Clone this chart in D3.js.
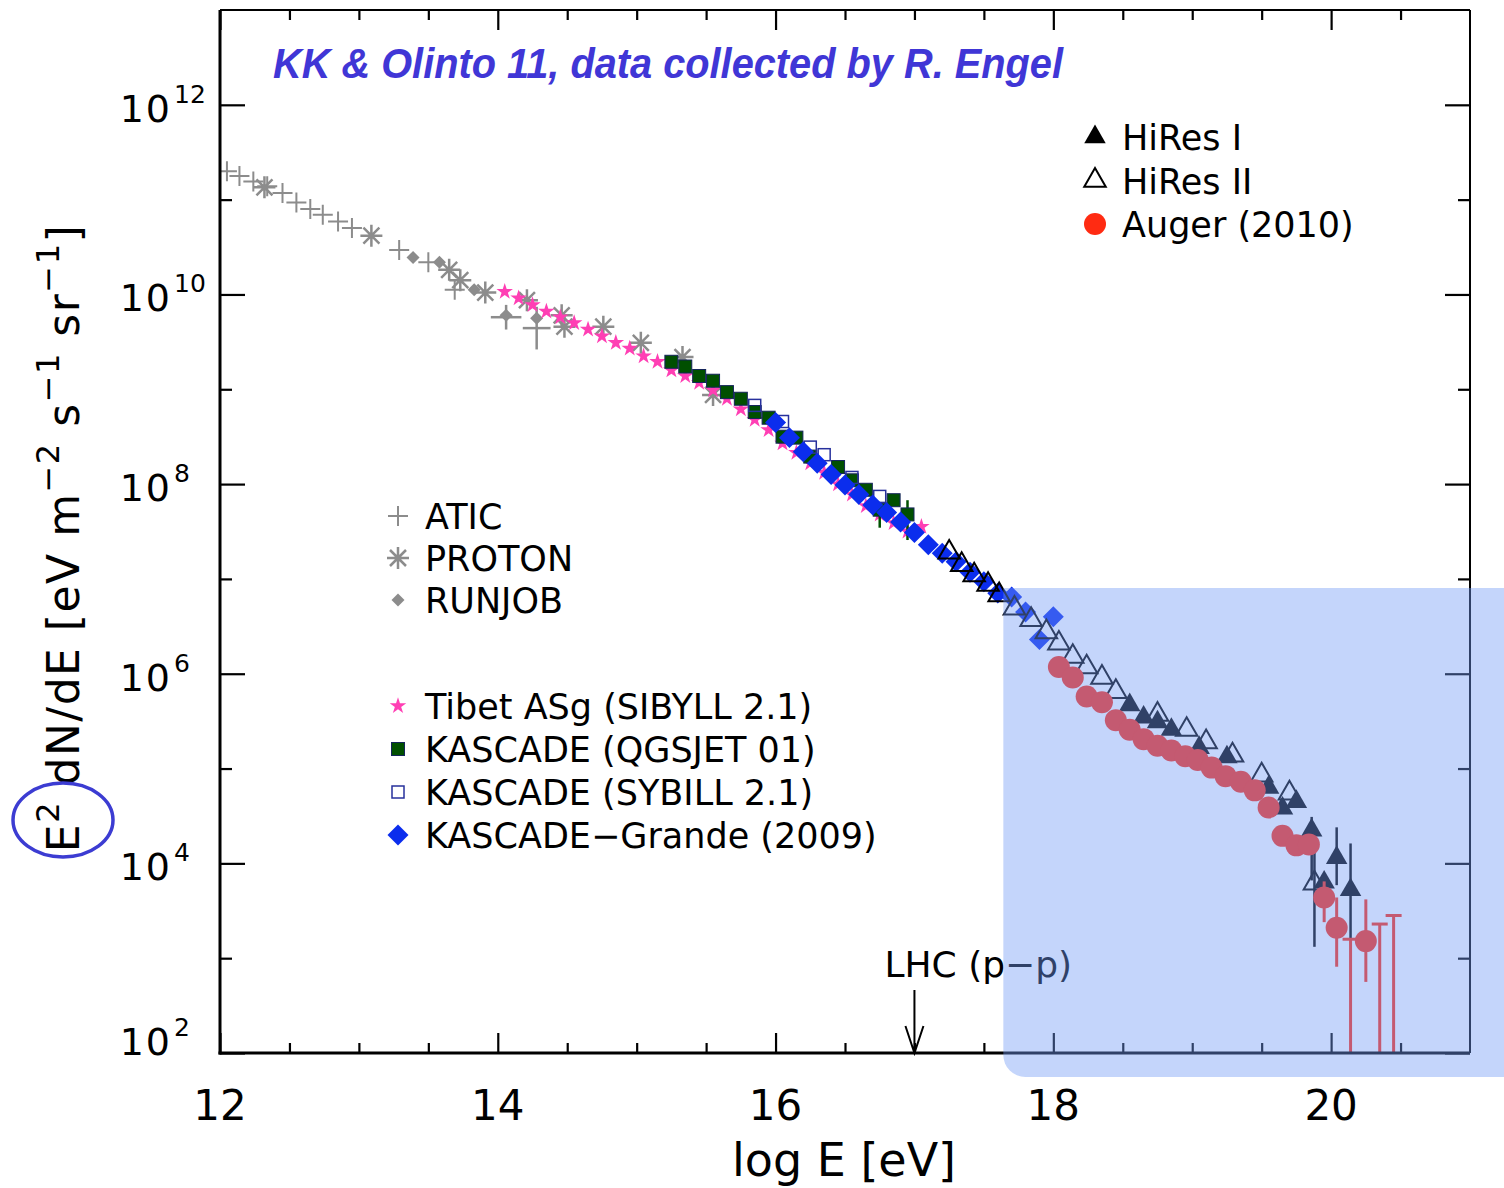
<!DOCTYPE html>
<html>
<head>
<meta charset="utf-8">
<script src="https://cdn.jsdelivr.net/npm/d3@7"></script>
<style>
  body { margin: 0; background: #fff; }
  svg text { font-family: "DejaVu Sans", sans-serif; fill: #000; }
</style>
</head>
<body>
<svg id="chart" width="1504" height="1188"></svg>
<script>
// every point is [log10 E (eV), log10 (E^2 dN/dE)]
const atic = [[12.05,11.30],[12.14,11.25],[12.24,11.19],[12.34,11.14],[12.45,11.07],[12.55,10.97],[12.65,10.90],[12.74,10.84],[12.85,10.77],[12.95,10.70],[13.29,10.47],[13.50,10.34],[13.69,10.05]];
const proton = [[12.32,11.13],[13.09,10.62],[13.65,10.26],[13.73,10.15],[13.91,10.02],[14.21,9.94],[14.46,9.78],[14.48,9.66],[14.76,9.66],[15.03,9.49],[15.33,9.34],[15.55,8.94]];
const runjob = [[13.39,10.39],[13.58,10.34],[13.83,10.05],[14.06,9.78],[14.28,9.75]];
// [logE, low, high, half width in logE]
const runjobErr = [[14.06,9.63,9.89,0.11],[14.28,9.42,9.87,0.10]];
const tibet = [[14.05,10.03],[14.15,9.96],[14.25,9.89],[14.35,9.82],[14.45,9.76],[14.55,9.70],[14.65,9.63],[14.75,9.56],[14.85,9.49],[14.95,9.43],[15.05,9.35],[15.15,9.29],[15.25,9.20],[15.35,9.14],[15.45,9.07],[15.55,8.99],[15.65,8.90],[15.75,8.79],[15.85,8.68],[15.95,8.57],[16.05,8.43],[16.15,8.33],[16.25,8.22],[16.35,8.12],[16.45,8.00],[16.55,7.89],[16.65,7.77],[16.75,7.68],[16.85,7.59],[16.95,7.50],[17.05,7.55]];
const kascadeQ = [[15.25,9.29],[15.35,9.24],[15.45,9.14],[15.55,9.09],[15.65,8.97],[15.75,8.90],[15.85,8.76],[15.95,8.70],[16.05,8.50],[16.15,8.49],[16.25,8.29],[16.45,8.18],[16.55,8.04],[16.65,7.94],[16.75,7.73],[16.85,7.83],[16.95,7.68]];
const kascadeQErr = [[16.75,7.54,7.80],[16.95,7.41,7.83]];
const kascadeS = [[15.85,8.83],[16.05,8.66],[16.25,8.39],[16.35,8.31],[16.55,8.07],[16.75,7.87]];
const grande = [[16.00,8.65],[16.10,8.49],[16.20,8.34],[16.30,8.22],[16.40,8.10],[16.50,7.99],[16.60,7.89],[16.70,7.78],[16.80,7.70],[16.90,7.60],[17.00,7.49],[17.10,7.36],[17.20,7.27],[17.30,7.18],[17.40,7.07],[17.50,6.97],[17.60,6.85],[17.70,6.81],[17.80,6.65],[17.90,6.36],[18.00,6.60]];
const hires2 = [[17.25,7.28],[17.34,7.15],[17.43,7.04],[17.53,6.94],[17.61,6.83],[17.72,6.69],[17.84,6.57],[17.95,6.44],[18.04,6.32],[18.14,6.18],[18.24,6.07],[18.35,5.96],[18.45,5.81],[18.75,5.57],[18.96,5.41],[19.10,5.28],[19.29,5.14],[19.50,4.93],[19.70,4.74],[19.88,3.79]];
const hires2Err = [[19.88,3.12,4.19]];
const hires1 = [[18.55,5.67],[18.65,5.54],[18.75,5.49],[18.85,5.41],[19.05,5.22],[19.25,5.12],[19.55,4.80],[19.65,4.58],[19.75,4.65],[19.86,4.35],[19.95,3.80],[20.04,4.06],[20.14,3.72]];
const hires1Err = [[19.86,3.82,4.49],[20.04,3.77,4.38],[20.14,3.19,4.21]];
const auger = [[18.04,6.07],[18.14,5.96],[18.24,5.76],[18.35,5.70],[18.45,5.51],[18.55,5.41],[18.65,5.31],[18.75,5.24],[18.85,5.19],[18.95,5.13],[19.04,5.09],[19.14,5.01],[19.24,4.92],[19.35,4.86],[19.45,4.77],[19.55,4.59],[19.65,4.29],[19.75,4.19],[19.84,4.20],[19.95,3.64],[20.04,3.32],[20.25,3.18]];
const augerErr = [[19.95,3.38,3.81],[20.04,2.91,3.64],[20.25,2.75,3.62]];
const augerLimits = [[20.14,3.20],[20.35,3.36],[20.45,3.45]];

const xMajor = [12, 14, 16, 18, 20];
const xMinor = d3.range(12.5, 21, 0.5).filter(v => v % 2 !== 0);
const yMajorExp = [2, 4, 6, 8, 10, 12];
const yMinorExp = [3, 5, 7, 9, 11];

const legendA = ["ATIC", "PROTON", "RUNJOB"];
const legendB = ["Tibet ASg (SIBYLL 2.1)", "KASCADE (QGSJET 01)", "KASCADE (SYBILL 2.1)", "KASCADE\u2212Grande (2009)"];
const legendC = ["HiRes I", "HiRes II", "Auger (2010)"];
const title = "KK & Olinto 11, data collected by R. Engel";
const lhc = {logE: 17.0, label: "LHC (p\u2212p)"};
const shade = {logE: 17.64, logFlux: 6.905};

const svg = d3.select("#chart");
const x = d3.scaleLinear().domain([12, 21]).range([220, 1470]);
const y = d3.scaleLog().domain([1e2, 1e13]).range([1053, 10]);
const px = d => x(d[0]);
const py = v => y(Math.pow(10, v));

const gray = "#8c8c8c";

// marker painter, used for the data and the legends
function marker(g, kind, cx, cy) {
    const t = "translate(" + cx + "," + cy + ")";
    if (kind == "plus") {
        g.append("path").attr("d", "M-10,0H10M0,-10V10").attr("transform", t)
            .attr("stroke", gray).attr("stroke-width", 2).attr("fill", "none");
    } else if (kind == "asterisk") {
        g.append("path").attr("d", "M-11,0H11M0,-11V11M-8,-8L8,8M-8,8L8,-8").attr("transform", t)
            .attr("stroke", gray).attr("stroke-width", 2.5).attr("fill", "none");
    } else if (kind == "smalldiamond") {
        g.append("path").attr("d", d3.symbol(d3.symbolSquare, 85)()).attr("transform", t + " rotate(45)")
            .attr("fill", gray);
    } else if (kind == "star") {
        g.append("path").attr("d", d3.symbol(d3.symbolStar, 85)()).attr("transform", t)
            .attr("fill", "#ff3fb4");
    } else if (kind == "square") {
        g.append("rect").attr("x", cx - 6.5).attr("y", cy - 6.5).attr("width", 13).attr("height", 13)
            .attr("fill", "#004f00").attr("stroke", "#14245a").attr("stroke-width", 1);
    } else if (kind == "osquare") {
        g.append("rect").attr("x", cx - 6).attr("y", cy - 6).attr("width", 12).attr("height", 12)
            .attr("fill", "none").attr("stroke", "#27309c").attr("stroke-width", 1.5);
    } else if (kind == "diamond") {
        g.append("path").attr("d", d3.symbol(d3.symbolSquare, 220)()).attr("transform", t + " rotate(45)")
            .attr("fill", "#0b2ded");
    } else if (kind == "tri") {
        g.append("path").attr("d", d3.symbol(d3.symbolTriangle, 200)()).attr("transform", t)
            .attr("fill", "#000");
    } else if (kind == "otri") {
        g.append("path").attr("d", d3.symbol(d3.symbolTriangle, 200)()).attr("transform", t)
            .attr("fill", "none").attr("stroke", "#000").attr("stroke-width", 2);
    } else if (kind == "circle") {
        g.append("circle").attr("cx", cx).attr("cy", cy).attr("r", 11).attr("fill", "#ff2b12");
    }
}

// clip for the data
svg.append("clipPath").attr("id", "plotClip").append("rect")
    .attr("x", 220).attr("y", 10).attr("width", 1250).attr("height", 1043);

const plot = svg.append("g").attr("clip-path", "url(#plotClip)");

function errBars(data, color, width) {
    data.forEach(d => {
        plot.append("line").attr("x1", x(d[0])).attr("x2", x(d[0]))
            .attr("y1", py(d[1])).attr("y2", py(d[2]))
            .attr("stroke", color).attr("stroke-width", width);
        if (d[3]) {
            plot.append("line").attr("x1", x(d[0] - d[3])).attr("x2", x(d[0] + d[3]))
                .attr("y1", py((d[1] + d[2]) / 2)).attr("y2", py((d[1] + d[2]) / 2))
                .attr("stroke", color).attr("stroke-width", width);
        }
    });
}

function series(data, kind) {
    data.forEach(d => marker(plot, kind, px(d), py(d[1])));
}

series(atic, "plus");
series(proton, "asterisk");
errBars(runjobErr, gray, 2.5);
series(runjob, "smalldiamond");
series(tibet, "star");
errBars(kascadeQErr, "#005000", 2.5);
series(kascadeQ, "square");
series(kascadeS, "osquare");
series(grande, "diamond");
errBars(hires2Err, "#000", 2.5);
series(hires2, "otri");
errBars(hires1Err, "#000", 2.5);
series(hires1, "tri");
errBars(augerErr, "#ff2b12", 3);
series(auger, "circle");
augerLimits.forEach(d => {
    plot.append("line").attr("x1", x(d[0])).attr("x2", x(d[0]))
        .attr("y1", py(d[1])).attr("y2", y(1e2))
        .attr("stroke", "#ff2b12").attr("stroke-width", 3);
    plot.append("line").attr("x1", x(d[0]) - 8).attr("x2", x(d[0]) + 8)
        .attr("y1", py(d[1])).attr("y2", py(d[1]))
        .attr("stroke", "#ff2b12").attr("stroke-width", 3);
});

// axes: ticks point inward on all four sides
function tickAxis(axis, scale, values, size, tr) {
    svg.append("g").attr("transform", tr)
        .call(axis(scale).tickValues(values).tickSizeInner(-size).tickSizeOuter(0).tickFormat(""))
        .call(g => g.select(".domain").remove())
        .selectAll("line").attr("stroke", "#000").attr("stroke-width", 2.2);
}
tickAxis(d3.axisBottom, x, xMajor, 20, "translate(0,1053)");
tickAxis(d3.axisBottom, x, xMinor, 10, "translate(0,1053)");
tickAxis(d3.axisTop, x, xMajor, 20, "translate(0,10)");
tickAxis(d3.axisTop, x, xMinor, 10, "translate(0,10)");
tickAxis(d3.axisLeft, y, yMajorExp.map(e => Math.pow(10, e)), 25, "translate(220,0)");
tickAxis(d3.axisLeft, y, yMinorExp.map(e => Math.pow(10, e)), 12, "translate(220,0)");
tickAxis(d3.axisRight, y, yMajorExp.map(e => Math.pow(10, e)), 25, "translate(1470,0)");
tickAxis(d3.axisRight, y, yMinorExp.map(e => Math.pow(10, e)), 12, "translate(1470,0)");

// frame
svg.append("line").attr("x1", 220).attr("x2", 1470).attr("y1", 10).attr("y2", 10).attr("stroke", "#000").attr("stroke-width", 2);
svg.append("line").attr("x1", 1470).attr("x2", 1470).attr("y1", 10).attr("y2", 1053).attr("stroke", "#000").attr("stroke-width", 2);
svg.append("line").attr("x1", 220).attr("x2", 220).attr("y1", 10).attr("y2", 1054.5).attr("stroke", "#000").attr("stroke-width", 3);
svg.append("line").attr("x1", 218.5).attr("x2", 1470).attr("y1", 1053).attr("y2", 1053).attr("stroke", "#000").attr("stroke-width", 3);

// tick labels
xMajor.forEach(v => {
    svg.append("text").attr("x", x(v)).attr("y", 1120).attr("text-anchor", "middle")
        .attr("font-size", 42).text(v);
});
yMajorExp.forEach((e, i) => {
    const ty = y(Math.pow(10, e)) + (i == 0 ? 2 : 17);
    svg.append("text").attr("x", 172).attr("y", ty).attr("text-anchor", "end")
        .attr("font-size", 38).attr("letter-spacing", 2).text("10");
    svg.append("text").attr("x", 174).attr("y", ty - 19).attr("font-size", 25).text(e);
});

// axis titles
svg.append("text").attr("x", 844).attr("y", 1176).attr("text-anchor", "middle")
    .attr("font-size", 46).text("log E [eV]");

const yt = svg.append("text").attr("transform", "translate(79,538) rotate(-90)")
    .attr("text-anchor", "middle").attr("font-size", 44).attr("letter-spacing", 1.5);
[["E", 0], ["2", 1], [" dN/dE [eV m", 0], ["\u22122", 1], [" s", 0], ["\u22121", 1], [" sr", 0], ["\u22121", 1], ["]", 0]]
    .forEach((p, i, arr) => {
        const prevSup = i > 0 && arr[i - 1][1];
        const dy = p[1] ? -20 : (prevSup ? 20 : 0);
        yt.append("tspan").attr("dy", dy).attr("font-size", p[1] ? 32 : 44).text(p[0]);
    });

svg.append("ellipse").attr("cx", 63).attr("cy", 820).attr("rx", 50).attr("ry", 37)
    .attr("fill", "none").attr("stroke", "#3c3cd2").attr("stroke-width", 3.5);

// title
svg.append("text").attr("x", 273).attr("y", 78)
    .style("font-family", "'Liberation Sans Narrow', 'Liberation Sans', sans-serif")
    .style("font-style", "italic").style("font-weight", "bold").style("fill", "#4036d6")
    .attr("font-size", 42).attr("textLength", 790).attr("lengthAdjust", "spacingAndGlyphs")
    .text(title);

// legends
const legendKindsA = ["plus", "asterisk", "smalldiamond"];
const legendKindsB = ["star", "square", "osquare", "diamond"];
const legendKindsC = ["tri", "otri", "circle"];
function legend(labels, kinds, lx, top, step) {
    const g = svg.append("g");
    labels.forEach((lab, i) => {
        const cy = top + i * step;
        marker(g, kinds[i], lx, cy);
        g.append("text").attr("x", lx + 27).attr("y", cy + 13).attr("font-size", 35).text(lab);
    });
}
legend(legendA, legendKindsA, 398, 516, 42);
legend(legendB, legendKindsB, 398, 706, 43);
legend(legendC, legendKindsC, 1095, 137, 43.5);

// LHC arrow
const lx = x(lhc.logE);
svg.append("path")
    .attr("d", "M" + lx + ",990V1053M" + (lx - 9) + ",1026L" + lx + ",1053L" + (lx + 9) + ",1026")
    .attr("stroke", "#000").attr("stroke-width", 2).attr("fill", "none");
svg.append("text").attr("x", lx - 30).attr("y", 977).attr("font-size", 36).text(lhc.label);

// translucent highlight over the highest energies
const sx = x(shade.logE), sy = py(shade.logFlux), sb = 1077, r = 22;
svg.append("path")
    .attr("d", "M" + sx + "," + sy + "H1504V" + sb + "H" + (sx + r) + "A" + r + "," + r + " 0 0 1 " + sx + "," + (sb - r) + "Z")
    .attr("fill", "rgb(115,156,245)").attr("fill-opacity", 0.42);
</script>
</body>
</html>
